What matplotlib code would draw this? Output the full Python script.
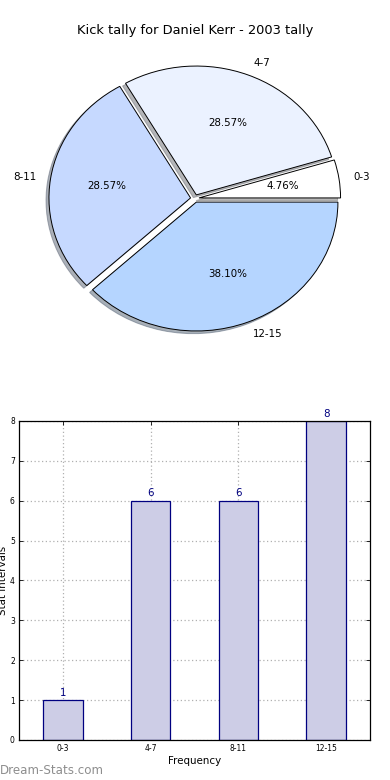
import matplotlib
matplotlib.use("Agg")
import matplotlib.pyplot as plt

categories = ["0-3", "4-7", "8-11", "12-15"]
values = [1, 6, 6, 8]
pie_colors = ["#ffffff", "#ebf2ff", "#c6d9ff", "#b5d5ff"]
title = "Kick tally for Daniel Kerr - 2003 tally"
bar_xlabel = "Frequency"
bar_ylabel = "Stat Intervals"
yticks = [0, 1, 2, 3, 4, 5, 6, 7, 8]
watermark = "Dream-Stats.com"

plt.rcParams['font.family'] = ['DejaVu Sans']
fig = plt.figure(figsize=(3.9, 7.8), dpi=100)

# Pie chart
ax1 = fig.add_axes([0.0274, 0.5423, 0.944, 0.4064])
wedges, texts, autotexts = ax1.pie(
    values, labels=categories, colors=pie_colors, explode=[0.03] * 4,
    autopct="%1.2f%%", startangle=0,
    shadow={'ox': -0.015, 'oy': -0.015, 'shade': 0.55},
    wedgeprops=dict(edgecolor="black", linewidth=0.7),
    textprops=dict(fontsize=7.4))
ax1.set_aspect('auto')
ax1.set_xlim(-1.3, 1.3)
ax1.set_ylim(-1.23, 1.23)
ax1.axis('off')
ax1.set_title(title, fontsize=9.4, pad=4)

# Bar chart
ax2 = fig.add_axes([0.0487, 0.0513, 0.9, 0.409])
x = list(range(len(categories)))
ax2.bar(x, values, width=0.45, color="#cdcde6", edgecolor="#000080", linewidth=0.9, zorder=2)
for xi, v in zip(x, values):
    ax2.text(xi, v + 0.06, str(v), ha="center", va="bottom", color="#000080", fontsize=7.4)
ax2.set_xlim(-0.5, 3.5)
ax2.set_ylim(0, 8)
ax2.set_xticks(x)
ax2.set_xticklabels(categories)
ax2.set_yticks(yticks)
ax2.tick_params(axis='both', direction='in', labelsize=5.5, top=True, right=True, length=3, width=0.6, pad=3)
ax2.grid(True, linestyle=(0, (1, 2)), color="#b0b0b0", linewidth=0.9, zorder=0)
ax2.set_axisbelow(True)
ax2.set_xlabel(bar_xlabel, fontsize=7.4, labelpad=2)
ax2.set_ylabel(bar_ylabel, fontsize=7.4)
ax2.yaxis.set_label_coords(-0.031, 0.5)
for s in ax2.spines.values():
    s.set_linewidth(0.9)

fig.text(0.0, 0.004, watermark, fontsize=8.6, color="#8e8e8e", ha="left", va="bottom")

fig.savefig("out.png", dpi=100)
